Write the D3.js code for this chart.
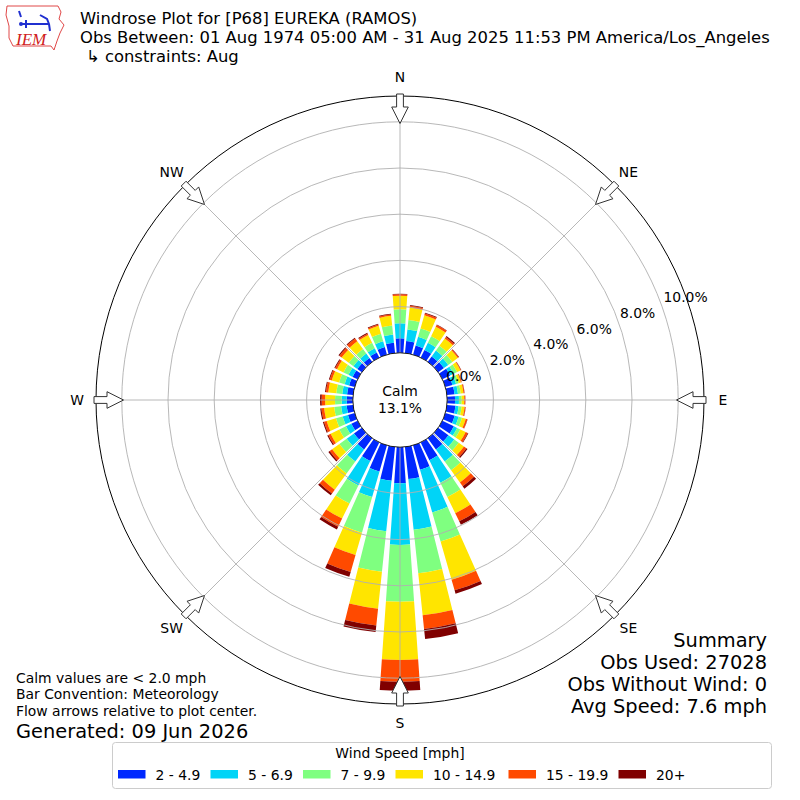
<!DOCTYPE html>
<html>
<head>
<meta charset="utf-8">
<script src="https://cdn.jsdelivr.net/npm/d3@7"></script>
<style>
  body { margin: 0; background: #fff; }
  svg { display: block; font-family: "DejaVu Sans", sans-serif; }
</style>
</head>
<body>
<div id="chart"></div>
<script>
// Windrose for P68 Eureka, August

const directions = [0, 10, 20, 30, 40, 50, 60, 70, 80, 90, 100, 110, 120, 130, 140, 150, 160, 170,
                    180, 190, 200, 210, 220, 230, 240, 250, 260, 270, 280, 290, 300, 310, 320, 330, 340, 350];
const speedBins = ["2 - 4.9", "5 - 6.9", "7 - 9.9", "10 - 14.9", "15 - 19.9", "20+"];
const binColors = ["#0028ff", "#00d4f7", "#7fff80", "#ffe500", "#ff4a00", "#800000"];

// percent of obs, per direction, per speed bin
const spd2to5 = [0.63,0.52,0.41,0.37,0.29,0.31,0.37,0.32,0.33,0.34,0.37,0.42,0.55,0.55,0.60,0.86,1.10,1.40,
                 1.56,1.47,1.18,0.90,0.60,0.42,0.30,0.30,0.28,0.26,0.26,0.25,0.24,0.24,0.21,0.25,0.34,0.45];
const spd5to7 = [0.65,0.51,0.39,0.34,0.31,0.23,0.17,0.16,0.15,0.17,0.14,0.18,0.16,0.31,0.65,1.08,1.92,2.20,
                 2.67,2.20,1.15,1.17,0.65,0.39,0.26,0.24,0.24,0.22,0.21,0.20,0.20,0.21,0.23,0.20,0.26,0.36];
const spd7to10 = [0.60,0.41,0.38,0.32,0.26,0.22,0.17,0.12,0.12,0.12,0.13,0.15,0.15,0.24,0.47,0.69,1.31,1.90,
                  2.46,1.76,1.60,0.87,0.64,0.39,0.32,0.30,0.30,0.29,0.26,0.25,0.24,0.25,0.24,0.26,0.34,0.39];
const spd10to15 = [0.59,0.54,0.59,0.45,0.39,0.29,0.16,0.10,0.12,0.11,0.13,0.17,0.26,0.28,0.65,0.78,1.72,1.83,
                   2.52,1.61,1.01,0.73,0.87,0.39,0.42,0.42,0.44,0.43,0.35,0.33,0.31,0.38,0.42,0.38,0.36,0.42];
const spd15to20 = [0.06,0.08,0.08,0.09,0.08,0.05,0.03,0.03,0.04,0.04,0.04,0.07,0.10,0.13,0.20,0.39,0.48,0.59,
                   0.94,0.73,0.76,0.39,0.20,0.13,0.11,0.12,0.12,0.15,0.10,0.09,0.09,0.12,0.15,0.06,0.06,0.06];
const spd20plus = [0.03,0.03,0.04,0.02,0.05,0.02,0.01,0.01,0.01,0.01,0.01,0.01,0.03,0.06,0.13,0.17,0.15,0.44,
                   0.39,0.29,0.22,0.13,0.10,0.07,0.05,0.05,0.05,0.07,0.04,0.04,0.04,0.05,0.04,0.04,0.03,0.03];

const ringTicks = [0, 2, 4, 6, 8, 10];
const compass = [["N", 0], ["NE", 45], ["E", 90], ["SE", 135], ["S", 180], ["SW", 225], ["W", 270], ["NW", 315]];
const calmPct = "13.1%";

const width = 800, height = 800;
const cx = 400, cy = 400;
const rad = d => d * Math.PI / 180;
const small = "13.9px", big = "19.4px";

const svg = d3.select("#chart").append("svg")
    .attr("width", width)
    .attr("height", height);

// radial scale: 0% sits on the calm circle
const rScale = d3.scaleLinear().domain([0, 10]).range([47.2, 278.2]);
const outerR = 304;

const rows = directions.map((d, i) => ({
    dir: d,
    b0: spd2to5[i], b1: spd5to7[i], b2: spd7to10[i],
    b3: spd10to15[i], b4: spd15to20[i], b5: spd20plus[i]
}));
const keys = ["b0", "b1", "b2", "b3", "b4", "b5"];
const stacked = d3.stack().keys(keys)(rows);

const g = svg.append("g").attr("transform", `translate(${cx},${cy})`);

const arc = d3.arc();
const halfWidth = 4; // degrees

// Bars
stacked.forEach((layer, k) => {
    g.append("g")
        .selectAll("path")
        .data(layer)
        .enter()
        .append("path")
        .attr("d", d => arc({
            innerRadius: rScale(d[0]),
            outerRadius: rScale(d[1]),
            startAngle: rad(d.data.dir - halfWidth),
            endAngle: rad(d.data.dir + halfWidth)
        }))
        .attr("fill", binColors[k]);
});

// Grid on top of bars
g.append("g").selectAll("circle")
    .data(ringTicks.slice(1))
    .enter()
    .append("circle")
    .attr("r", d => rScale(d))
    .attr("fill", "none")
    .attr("stroke", "#b0b0b0")
    .attr("stroke-width", 0.9);

g.append("g").selectAll("line")
    .data(compass)
    .enter()
    .append("line")
    .attr("x1", 0).attr("y1", 0)
    .attr("x2", d => outerR * Math.sin(rad(d[1])))
    .attr("y2", d => -outerR * Math.cos(rad(d[1])))
    .attr("stroke", "#b0b0b0")
    .attr("stroke-width", 0.9);

// Calm circle
g.append("circle")
    .attr("r", rScale(0))
    .attr("fill", "#fff")
    .attr("stroke", "#000")
    .attr("stroke-width", 0.9);

g.append("text")
    .attr("x", 0).attr("y", -9)
    .attr("text-anchor", "middle")
    .attr("dominant-baseline", "central")
    .style("font-size", small)
    .text("Calm");
g.append("text")
    .attr("x", 0).attr("y", 8)
    .attr("text-anchor", "middle")
    .attr("dominant-baseline", "central")
    .style("font-size", small)
    .text(calmPct);

// Outer circle
g.append("circle")
    .attr("r", outerR)
    .attr("fill", "none")
    .attr("stroke", "#000")
    .attr("stroke-width", 1);

// Radial tick labels
const labAng = rad(19.9);
g.append("g").selectAll("text")
    .data(ringTicks)
    .enter()
    .append("text")
    .attr("x", d => (rScale(d) + 2) * Math.cos(labAng))
    .attr("y", d => -(rScale(d) + 2) * Math.sin(labAng) - 7.5)
    .attr("dominant-baseline", "central")
    .style("font-size", small)
    .text(d => d.toFixed(1) + "%");

// Flow arrows pointing to center
const arrowShape = [[0, 276.5], [8.3, 293], [3.4, 293], [3.4, 306], [-3.4, 306], [-3.4, 293], [-8.3, 293]];
g.append("g").selectAll("path")
    .data(compass)
    .enter()
    .append("path")
    .attr("d", d => {
        const a = rad(d[1]);
        const pts = arrowShape.map(([w, r]) => [
            r * Math.sin(a) + w * Math.cos(a),
            -r * Math.cos(a) + w * Math.sin(a)
        ]);
        return d3.line()(pts) + "Z";
    })
    .attr("fill", "#fff")
    .attr("stroke", "#333")
    .attr("stroke-width", 1);

// Compass labels
g.append("g").selectAll("text")
    .data(compass)
    .enter()
    .append("text")
    .attr("x", d => 323 * Math.sin(rad(d[1])))
    .attr("y", d => -323 * Math.cos(rad(d[1])))
    .attr("text-anchor", "middle")
    .attr("dominant-baseline", "central")
    .style("font-size", small)
    .text(d => d[0]);

// Titles
const titles = [
    ["Windrose Plot for [P68] EUREKA (RAMOS)", 80, 24],
    ["Obs Between: 01 Aug 1974 05:00 AM - 31 Aug 2025 11:53 PM America/Los_Angeles", 80, 43],
    ["\u21B3 constraints: Aug", 86, 62]
];
svg.append("g").selectAll("text")
    .data(titles)
    .enter()
    .append("text")
    .attr("x", d => d[1])
    .attr("y", d => d[2])
    .style("font-size", "16.4px")
    .text(d => d[0]);

// Logo
const logo = svg.append("g");
logo.append("path")
    .attr("d", "M7,6 L58,6 L61,12 L59,19 L64,25 L60,33 L57,41 L54,50 L51,46 L13,46 L9,38 L9,26 L6,15 Z")
    .attr("fill", "none")
    .attr("stroke", "#e04848")
    .attr("stroke-width", 1);
logo.append("path")
    .attr("d", "M22,24 L49,24 M26,20 L26,28 M40,15 L47,19 L49,24 M49,24 L50,31 M19,11 L21,17")
    .attr("fill", "none")
    .attr("stroke", "#2030d0")
    .attr("stroke-width", 2);
logo.append("circle").attr("cx", 21).attr("cy", 24).attr("r", 2).attr("fill", "#2030d0");
logo.append("text")
    .attr("x", 16).attr("y", 45)
    .style("font-family", "'Liberation Serif', serif")
    .style("font-style", "italic")
    .style("font-size", "17px")
    .attr("fill", "#d02020")
    .text("IEM");

// Bottom left notes
const notes = ["Calm values are < 2.0 mph", "Bar Convention: Meteorology", "Flow arrows relative to plot center."];
svg.append("g").selectAll("text")
    .data(notes)
    .enter()
    .append("text")
    .attr("x", 16)
    .attr("y", (d, i) => 682.5 + i * 16.5)
    .style("font-size", small)
    .text(d => d);
svg.append("text")
    .attr("x", 16).attr("y", 737.5)
    .style("font-size", big)
    .text("Generated: 09 Jun 2026");

// Summary
const summary = ["Summary", "Obs Used: 27028", "Obs Without Wind: 0", "Avg Speed: 7.6 mph"];
svg.append("g").selectAll("text")
    .data(summary)
    .enter()
    .append("text")
    .attr("x", 767)
    .attr("y", (d, i) => 647 + i * 22)
    .attr("text-anchor", "end")
    .style("font-size", big)
    .text(d => d);

// Legend
const legend = svg.append("g");
legend.append("rect")
    .attr("x", 112.5).attr("y", 742.5)
    .attr("width", 659).attr("height", 46)
    .attr("rx", 3)
    .attr("fill", "#fff")
    .attr("stroke", "#cccccc");
legend.append("text")
    .attr("x", 400).attr("y", 753)
    .attr("text-anchor", "middle")
    .attr("dominant-baseline", "central")
    .style("font-size", small)
    .text("Wind Speed [mph]");
const swatchX = [118, 210.5, 303, 395.5, 508.5, 618.5];
const items = legend.selectAll("g.item")
    .data(speedBins)
    .enter()
    .append("g")
    .attr("class", "item")
    .attr("transform", (d, i) => `translate(${swatchX[i]},770)`);
items.append("rect")
    .attr("width", 27.5).attr("height", 8.5)
    .attr("fill", (d, i) => binColors[i]);
items.append("text")
    .attr("x", 37.5).attr("y", 4.5)
    .attr("dominant-baseline", "central")
    .style("font-size", small)
    .text(d => d);
</script>
</body>
</html>
